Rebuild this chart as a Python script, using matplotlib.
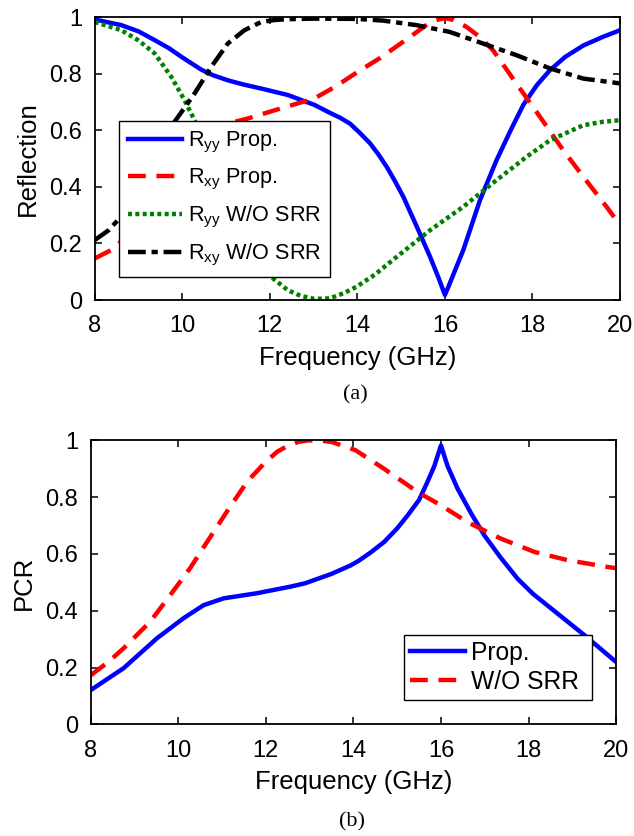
import matplotlib
matplotlib.use("Agg")
import matplotlib.pyplot as plt

plt.rcParams['font.family'] = ['Liberation Sans', 'DejaVu Sans']
plt.rcParams['mathtext.fontset'] = 'custom'
plt.rcParams['mathtext.rm'] = 'Liberation Sans'

# ---------------- data (a) ----------------
f_ryy_prop = [8, 8.61, 9.0, 9.37, 9.7, 9.98, 10.2, 10.43, 10.7, 11.04, 11.4, 11.8, 12.41, 13.02, 13.37, 13.6,
              13.83, 14.05, 14.29, 14.48, 14.67, 14.86, 15.05, 15.35, 15.66, 15.85, 16, 16.1, 16.42, 16.8,
              17.18, 17.5, 17.79, 18.1, 18.4, 18.75, 19.16, 19.6, 20]
ryy_prop = [0.992, 0.972, 0.95, 0.919, 0.89, 0.86, 0.838, 0.815, 0.795, 0.777, 0.762, 0.748, 0.725, 0.69,
            0.662, 0.645, 0.624, 0.592, 0.554, 0.515, 0.471, 0.42, 0.365, 0.262, 0.153, 0.08, 0.018, 0.055,
            0.177, 0.353, 0.495, 0.60, 0.69, 0.76, 0.813, 0.86, 0.90, 0.93, 0.954]

f_rxy_prop = [8, 8.38, 9, 9.5, 10, 10.5, 11.04, 11.5, 12.11, 13.02, 13.5, 14.01, 14.51, 15.2, 15.6, 15.8,
              16, 16.2, 16.49, 16.8, 17.1, 17.63, 18.17, 18.7, 19.16, 19.69, 20]
rxy_prop = [0.147, 0.177, 0.26, 0.35, 0.45, 0.55, 0.624, 0.642, 0.671, 0.713, 0.755, 0.807, 0.855, 0.93,
            0.975, 0.99, 0.997, 0.99, 0.966, 0.93, 0.883, 0.766, 0.648, 0.53, 0.436, 0.33, 0.265]

f_ryy_wo = [8, 8.61, 8.99, 9.37, 9.75, 10.05, 10.28, 10.5, 11, 11.5, 12, 12.41, 12.7, 13.02, 13.37, 13.7,
            13.98, 14.4, 14.9, 15.66, 16.42, 17.18, 17.86, 18.4, 19.16, 19.6, 20]
ryy_wo = [0.983, 0.954, 0.919, 0.872, 0.789, 0.707, 0.636, 0.565, 0.40, 0.235, 0.085, 0.035, 0.015, 0.004,
          0.006, 0.025, 0.047, 0.09, 0.153, 0.247, 0.33, 0.424, 0.506, 0.565, 0.618, 0.63, 0.636]

f_rxy_wo = [8, 8.32, 8.63, 9, 9.5, 9.8, 10.28, 10.66, 11.04, 11.42, 11.8, 12.1, 12.4, 13, 14, 14.59, 15.35,
            16.11, 16.87, 17.63, 18.4, 19.16, 20]
rxy_wo = [0.212, 0.247, 0.30, 0.38, 0.52, 0.625, 0.73, 0.824, 0.907, 0.954, 0.983, 0.99, 0.993, 0.995,
          0.994, 0.988, 0.972, 0.948, 0.907, 0.866, 0.819, 0.783, 0.766]

# ---------------- data (b) ----------------
f_pcr_prop = [8, 8.75, 9.51, 10.12, 10.58, 11.04, 11.8, 12.56, 12.9, 13.5, 13.94, 14.12, 14.4, 14.7, 15.0,
              15.24, 15.5, 15.69, 15.85, 16, 16.15, 16.38, 16.7, 16.99, 17.35, 17.75, 18.1, 18.52, 19.28, 20]
pcr_prop = [0.121, 0.198, 0.303, 0.374, 0.42, 0.444, 0.462, 0.485, 0.497, 0.53, 0.56, 0.576, 0.606, 0.642,
            0.69, 0.736, 0.79, 0.853, 0.91, 0.982, 0.91, 0.83, 0.74, 0.666, 0.59, 0.513, 0.46, 0.408, 0.314,
            0.22]

f_pcr_wo = [8, 8.4, 8.75, 9.36, 9.82, 10.27, 10.66, 11.11, 11.57, 12.0, 12.26, 12.52, 12.75, 12.98, 13.25,
            13.51, 14.05, 14.7, 15.47, 16, 16.61, 17.37, 18.14, 18.9, 19.82, 20]
pcr_wo = [0.173, 0.22, 0.268, 0.362, 0.456, 0.55, 0.643, 0.749, 0.854, 0.925, 0.96, 0.982, 0.995, 1.0, 0.999,
          0.994, 0.965, 0.90, 0.818, 0.771, 0.712, 0.654, 0.607, 0.578, 0.554, 0.55]

xticks = [8, 10, 12, 14, 16, 18, 20]
yticks = [0, 0.2, 0.4, 0.6, 0.8, 1]
ytick_labels = ['0', '0.2', '0.4', '0.6', '0.8', '1']

fig = plt.figure(figsize=(6.34, 8.36), dpi=100)
ax1 = fig.add_axes([0.1494, 0.6411, 0.8286, 0.3383])
ax2 = fig.add_axes([0.1431, 0.1334, 0.8286, 0.3399])

lw = 3.2
dash = (0, (4, 2.4))
ax1.plot(f_ryy_prop, ryy_prop, color='#0000ff', lw=lw, ls='-', label=r'R$_{\mathregular{yy}}$ Prop.')
ax1.plot(f_rxy_prop, rxy_prop, color='#ff0000', lw=lw, ls=dash, label=r'R$_{\mathregular{xy}}$ Prop.')
ax1.plot(f_ryy_wo, ryy_wo, color='#008000', lw=lw, ls=(0, (0.9, 0.75)), label=r'R$_{\mathregular{yy}}$ W/O SRR')
ax1.plot(f_rxy_wo, rxy_wo, color='#000000', lw=lw, ls=(0, (4, 1.3, 1.4, 1.3)), label=r'R$_{\mathregular{xy}}$ W/O SRR')

ax2.plot(f_pcr_prop, pcr_prop, color='#0000ff', lw=lw, ls='-', label='Prop.')
ax2.plot(f_pcr_wo, pcr_wo, color='#ff0000', lw=lw, ls=dash, label='W/O SRR')

for ax, ylab in [(ax1, 'Reflection'), (ax2, 'PCR')]:
    ax.set_xlim(8, 20)
    ax.set_ylim(0, 1)
    ax.set_xticks(xticks)
    ax.set_yticks(yticks)
    ax.set_yticklabels(ytick_labels)
    ax.tick_params(direction='in', top=True, right=True, labelsize=17, length=5, width=1.1)
    ax.tick_params(axis='y', pad=9)
    ax.tick_params(axis='x', pad=11)
    ax.set_xlabel('Frequency (GHz)', fontsize=18.5, labelpad=6)
    ax.set_ylabel(ylab, fontsize=18.5, labelpad=7)
    for s in ax.spines.values():
        s.set_linewidth(1.3)

leg1 = ax1.legend(loc='lower left', bbox_to_anchor=(0.046, 0.082, 0.4025, 0.542), mode='expand',
                  fontsize=15.6, frameon=True, fancybox=False, edgecolor='black', framealpha=1,
                  handlelength=2.5, borderaxespad=0, handletextpad=0.3, labelspacing=0.55, borderpad=0.4)
leg1.get_frame().set_linewidth(1.0)

leg2 = ax2.legend(loc='lower left', bbox_to_anchor=(0.597, 0.087, 0.357, 0.232), mode='expand',
                  fontsize=17.7, frameon=True, fancybox=False, edgecolor='black', framealpha=1,
                  handlelength=2.2, borderaxespad=0, handletextpad=0.27, labelspacing=0.2, borderpad=0.25)
leg2.get_frame().set_linewidth(1.0)

fig.text(0.56, 1 - 395 / 836, '(a)', fontsize=16, family='Liberation Serif', ha='center', va='center')
fig.text(0.555, 1 - 822 / 836, '(b)', fontsize=16, family='Liberation Serif', ha='center', va='center')

fig.savefig('out.png', dpi=100)
